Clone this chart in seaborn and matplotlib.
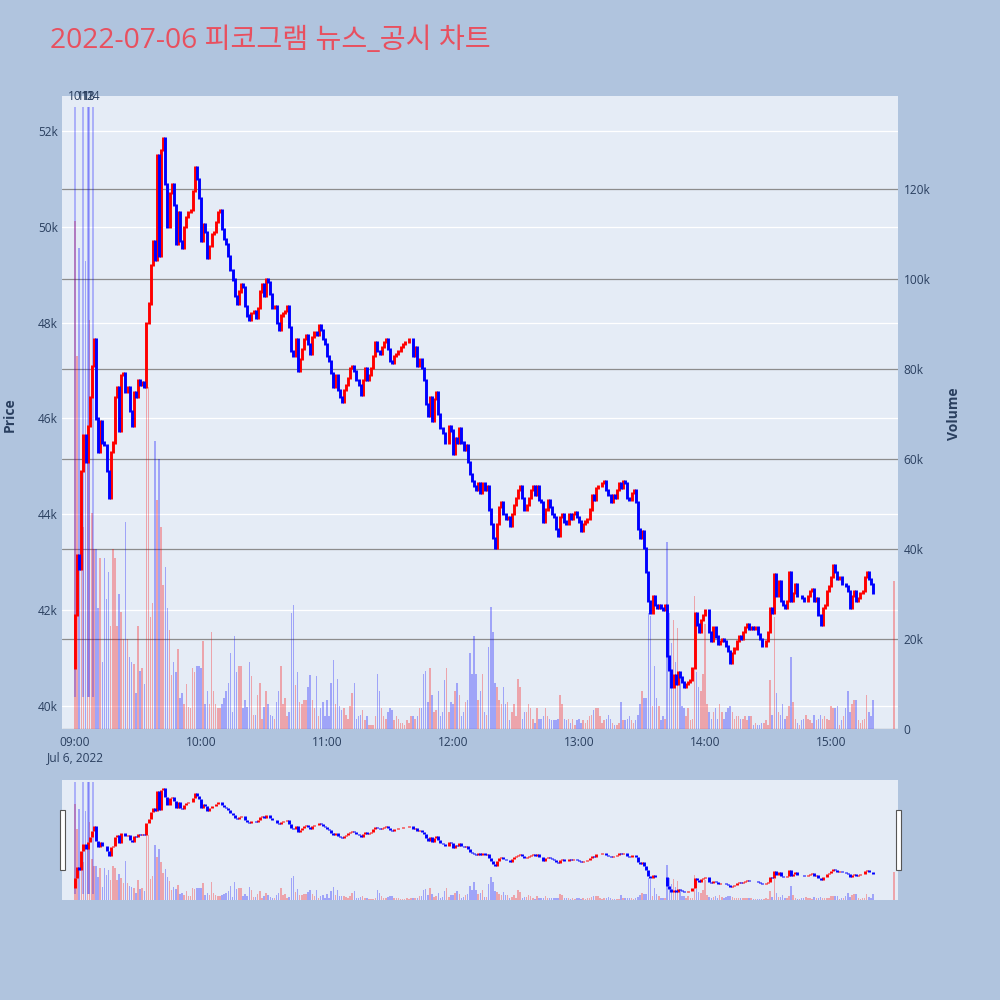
import numpy as np
import pandas as pd
import matplotlib
matplotlib.use("Agg")
import matplotlib.pyplot as plt
import seaborn as sns
from matplotlib.patches import Rectangle

# ---------------- data ----------------
title_text = "2022-07-06 피코그램 뉴스_공시 차트"

first_open = 40800
close_price = [
    41900, 43150, 42850, 44900, 45650, 45100, 45850, 46450, 47100, 47650,
    46000, 45300, 45950, 45500, 45450, 44900, 44350, 45300, 45500, 46450,
    46650, 45750, 46900, 46950, 46550, 46650, 46150, 45850, 46550, 46450,
    46800, 46700, 46750, 46650, 48000, 48400, 49200, 49700, 49300, 51500,
    49400, 51600, 51850, 50900, 50000, 50700, 50900, 50450, 49650, 50300,
    49700, 49550, 50000, 50200, 50300, 50350, 50750, 51250, 51000, 50600,
    49700, 50050, 49900, 49350, 49600, 49850, 49900, 50100, 50300, 50350,
    49950, 49750, 49650, 49400, 49100, 48900, 48550, 48400, 48650, 48800,
    48750, 48350, 48150, 48050, 48200, 48250, 48100, 48300, 48650, 48800,
    48550, 48900, 48850, 48600, 48300, 48350, 48000, 47850, 48150, 48200,
    48250, 48350, 47900, 47400, 47300, 47650, 47000, 47250, 47450, 47650,
    47750, 47550, 47350, 47700, 47800, 47750, 47950, 47850, 47650, 47550,
    47300, 47200, 46950, 46650, 46900, 46600, 46450, 46350, 46600, 46700,
    46850, 47050, 47100, 47000, 46800, 46700, 46500, 46800, 47050, 46800,
    46900, 47050, 47300, 47600, 47400, 47350, 47500, 47600, 47650, 47450,
    47200, 47150, 47300, 47350, 47400, 47500, 47550, 47600, 47600, 47650,
    47650, 47300, 47500, 47100, 47250, 47050, 46800, 46300, 46050, 46450,
    45950, 46400, 46550, 46100, 45800, 45700, 45500, 45500, 45850, 45750,
    45250, 45600, 45500, 45800, 45500, 45350, 45450, 45100, 44850, 44700,
    44600, 44500, 44650, 44450, 44650, 44500, 44600, 44100, 43800, 43500,
    43300, 43800, 44150, 44250, 44000, 43900, 43950, 43750, 44000, 44200,
    44350, 44500, 44600, 44350, 44100, 44200, 44350, 44500, 44600, 44400,
    44600, 44300, 44250, 43850, 44100, 44300, 44150, 44000, 43950, 43700,
    43550, 43950, 44000, 43850, 43800, 44000, 43900, 44000, 44050, 43950,
    43850, 43650, 43800, 43850, 43900, 44100, 44400, 44300, 44550, 44600,
    44600, 44650, 44700, 44500, 44400, 44250, 44400, 44350, 44500, 44650,
    44550, 44700, 44650, 44350, 44300, 44450, 44500, 44250, 43700, 43500,
    43650, 43300, 42800, 42200, 41950, 42300, 42100, 42050, 42100, 42050,
    42000, 42100, 41050, 40750, 40400, 40650, 40450, 40700, 40600, 40500,
    40400, 40450, 40500, 40550, 40800, 41950, 41700, 41550, 41800, 41900,
    42000, 42000, 41550, 41350, 41650, 41450, 41300, 41350, 41400, 41350,
    41250, 41150, 40900, 41100, 41200, 41350, 41450, 41400, 41550, 41650,
    41700, 41600, 41650, 41600, 41650, 41500, 41400, 41250, 41250, 41350,
    41550, 42050, 41950, 42750, 42300, 42600, 42200, 42100, 42050, 42200,
    42800, 42200, 42350, 42550, 42300, 42300, 42250, 42200, 42200, 42300,
    42400, 42450, 42200, 42250, 41900, 41700, 42050, 42100, 42400, 42500,
    42700, 42950, 42800, 42650, 42700, 42550, 42550, 42500, 42400, 42050,
    42300, 42400, 42200, 42250, 42350, 42400, 42700, 42800, 42650, 42550,
    42350,
    42350,
]

volume_k = [
    113, 83, 107, 52, 45, 104, 60, 91, 48, 40, 40, 27, 38, 15, 38, 29, 35, 23,
    40, 38, 23, 30, 26, 20, 46, 20, 16, 15, 14.5, 8, 23, 13, 13.5, 10,
    82, 76, 25, 28, 64, 51, 60, 45, 32, 36, 27, 22, 12, 15, 12.6, 17.8, 7, 8,
    5.6, 10, 5, 4.7, 13.6, 12.6, 14, 14, 13.6, 19.6, 5.6, 8.4, 5.6, 21.5, 8.4,
    5.6, 4.7, 4.7, 5.6, 7, 8.4, 10.3, 16.8,
    3.7, 20.6, 12.6, 14, 14, 4.7, 6.5, 5, 15, 11.7, 3.2, 3.2, 7.5, 10.3, 2.3,
    5, 8.4, 5.6, 3.2, 2.8, 2.3, 6, 8.4, 14, 5.6, 7, 2.8, 3.7, 25.7, 27.6,
    9.8, 12.6, 6, 5.6, 6.5, 6.5, 9.3, 12, 6.5, 4.7,
    11.7, 2.8, 4.7, 6, 2.8, 6.5, 2.8, 10.3, 15.4, 5.6, 11.2, 5.1, 4.2, 4.7,
    3.2, 2.3, 5.1, 7.9, 10.3, 2.3, 2.8, 3.2, 4.2, 1.9, 2.8, 0.9, 0.9, 0.9,
    2.8, 12.2, 8.4, 4.7, 2.8, 2.3, 3.7, 4.7, 4.2, 1.9, 2.8, 2.3,
    1.4, 1.4, 0.9, 1.9, 1.4, 2.8, 2.8, 2.3, 2.8, 4.7, 4.7, 12.2, 13, 6, 13.6,
    7.5, 3.7, 4.2, 8.4, 2.8, 3.7, 10.8, 13.6, 3.7, 6, 5.6, 8.4, 10.3, 7.5,
    2.8, 3.7, 6, 6.5, 16.8, 12.2, 20.6, 12.2, 6.5, 8.4, 12.2,
    3.7, 3.2, 18.2, 27.1, 21.5, 10.3, 9.3, 6.5, 5.6, 9.3, 5.6, 6, 1.9, 3.7,
    5.6, 2.8, 11.2, 9.3, 2.3, 3.7, 3.7, 5.6, 4.7, 2.3, 1.4, 4.7, 2.3, 2.3,
    2.8, 4.7, 2.8, 2.3, 1.9, 1.9, 1.9, 2.3, 7.5, 5.6, 2.3, 1.9,
    2.3, 1.4, 2.3, 0.9, 1.9, 2.3, 1.4, 1.9, 1.4, 1.9, 2.8, 3.2, 4.2, 4.7,
    4.7, 2.8, 1.4, 1.9, 2.3, 3.2, 2.3, 1.4, 0.9, 0.9, 1.4, 6, 1.9, 1.9, 2.3,
    2.8, 1.9, 1.4, 1.9, 3.2, 5.6, 8.4, 7, 7, 25.7, 25.2,
    5.1, 14, 7, 5.1, 1.9, 2.8, 2.3, 41.6, 25.7, 19.2, 24.3, 15, 22.4, 12.2,
    5.1, 4.7, 2.8, 4.7, 1.9, 2.3, 29.5, 12.6, 9.3, 8.4, 12.2, 23.4, 5.6, 3.7,
    2.3, 3.7, 4.7, 2.3, 5.6, 3.7, 2.3, 3.7, 4.7, 5.1, 3.7, 2.3,
    2.8, 2.8, 2.3, 2.3, 2.8, 1.9, 2.8, 2.8, 0.9, 1.4, 0.9, 0.9, 1.4, 1.4,
    1.9, 0.9, 10.8, 3.2, 24.8, 7.9, 3.7, 3.2, 5.6, 2.3, 2.8, 5.1, 15.9, 6,
    2.3, 1.4, 0.9, 1.9, 2.3, 3.2, 2.3, 1.9, 1.4, 3.2, 1.9, 2.3,
    3.2, 2.3, 2.8, 2.3, 1.9, 5.1, 4.7, 4.7, 5.1, 0.9, 1.9, 2.8, 4.7, 8.4,
    3.7, 5.6, 6.5, 6.5, 1.9, 1.4, 1.9, 2.3, 7.5, 3.7, 2.8, 6.5,
    33,
]

# minutes after 09:00 (continuous session 09:00-15:20, closing auction 15:30)
minute_index = list(range(0, 381)) + [390]

news_minutes = [0, 4, 6, 6.6, 8.7]
news_labels = ["10", "11", "12", "13", "14"]

price_ticks = [40000, 42000, 44000, 46000, 48000, 50000, 52000]
price_tick_labels = ["40k", "42k", "44k", "46k", "48k", "50k", "52k"]
volume_ticks = [0, 20000, 40000, 60000, 80000, 100000, 120000]
volume_tick_labels = ["0", "20k", "40k", "60k", "80k", "100k", "120k"]
time_ticks = [0, 60, 120, 180, 240, 300, 360]
time_tick_labels = ["09:00\nJul 6, 2022", "10:00", "11:00", "12:00", "13:00", "14:00", "15:00"]

assert len(close_price) == len(minute_index), len(close_price)
assert len(volume_k) == len(minute_index), len(volume_k)

df = pd.DataFrame({"minute": np.array(minute_index, dtype=float),
                   "close": close_price,
                   "volume": np.array(volume_k) * 1000.0})
df["open"] = df["close"].shift(1).fillna(first_open)
df["direction"] = np.where(df["close"] >= df["open"], "up", "down")

# ---------------- style ----------------
sns.set_theme(style="white")
plt.rcParams["font.family"] = ["Open Sans", "Noto Sans CJK KR", "DejaVu Sans"]

BG = "#b0c4de"
PLOT_BG = "#e5ecf6"
TXT = "#2a3f5f"
UP = "#ff0000"
DOWN = "#0000ff"

PRICE_LIM = (39520, 52730)
VOL_LIM = (0, 140700)
X_LIM = (-6.2, 391.9)

fig = plt.figure(figsize=(10, 10), dpi=100)
fig.patch.set_facecolor(BG)

L, R = 0.062, 0.898
main_rect = [L, 1 - 0.729, R - L, 0.729 - 0.096]
slider_rect = [L, 0.100, R - L, 0.120]


def draw_panel(rect, main=True):
    ax_vol = fig.add_axes(rect)
    ax_vol.set_facecolor(PLOT_BG)
    ax_price = ax_vol.twinx()
    for a in (ax_vol, ax_price):
        for s in a.spines.values():
            s.set_visible(False)

    # volume bars (secondary axis)
    sns.histplot(data=df, x="minute", weights="volume", hue="direction",
                 hue_order=["up", "down"], palette={"up": UP, "down": DOWN},
                 binwidth=1.0, binrange=(-0.5, 390.5), shrink=0.7, alpha=0.3,
                 linewidth=0, element="bars", multiple="layer", legend=False,
                 ax=ax_vol)
    ax_vol.set_ylim(*VOL_LIM)
    ax_vol.set_xlim(*X_LIM)
    ax_vol.set_xlabel("")
    ax_vol.set_ylabel("")

    # candles (price axis)
    x = df["minute"].to_numpy()
    o = df["open"].to_numpy(dtype=float)
    c = df["close"].to_numpy(dtype=float)
    ext = np.where(o != c, 22.0, 0.0) if main else 0.0
    lo = np.minimum(o, c) - ext
    hi = np.maximum(o, c) + ext
    up = c >= o
    lw = 2.1
    ax_price.vlines(x[up], lo[up], hi[up], colors=UP, linewidth=lw, zorder=3)
    ax_price.vlines(x[~up], lo[~up], hi[~up], colors=DOWN, linewidth=lw, zorder=3)
    # news markers
    ax_price.vlines(news_minutes, 40190, 52500, colors=[(0, 0, 1, 0.3)],
                    linewidth=1.2, zorder=2)
    ax_price.set_ylim(*PRICE_LIM)
    ax_price.set_xlim(*X_LIM)

    if main:
        ax_vol.set_axisbelow(True)
        ax_vol.yaxis.grid(True, color="#8c8c8c", linewidth=0.9)
        ax_vol.xaxis.grid(False)
        # price gridlines drawn beneath the bars
        for p in price_ticks:
            f = (p - PRICE_LIM[0]) / (PRICE_LIM[1] - PRICE_LIM[0])
            ax_vol.plot([0, 1], [f, f], transform=ax_vol.transAxes,
                        color="white", linewidth=0.9, zorder=0.6)
        ax_vol.set_yticks(volume_ticks)
        ax_vol.set_yticklabels(volume_tick_labels)
        ax_vol.yaxis.tick_right()
        ax_vol.tick_params(axis="y", length=0, pad=4, labelsize=8.6,
                           labelcolor=TXT)
        ax_price.yaxis.tick_left()
        ax_price.set_yticks(price_ticks)
        ax_price.set_yticklabels(price_tick_labels)
        ax_price.tick_params(axis="y", length=0, pad=3, labelsize=8.6,
                             labelcolor=TXT, left=False, right=False,
                             labelleft=True, labelright=False)
        ax_price.grid(False)
        ax_vol.set_xticks(time_ticks)
        ax_vol.set_xticklabels(time_tick_labels)
        ax_vol.tick_params(axis="x", length=0, pad=5, labelsize=8.6,
                           labelcolor=TXT)
        ax_price.tick_params(axis="x", bottom=False, labelbottom=False)
        for m, lab in zip(news_minutes, news_labels):
            ax_price.text(m, 1.0, lab, transform=ax_price.get_xaxis_transform(),
                          ha="center", va="center", fontsize=8.6, color=TXT,
                          clip_on=False, zorder=5)
    else:
        for a in (ax_vol, ax_price):
            a.set_xticks([])
            a.set_yticks([])
            a.grid(False)
    return ax_vol, ax_price


draw_panel(main_rect, main=True)
draw_panel(slider_rect, main=False)

# range slider grab handles
for hx in (0.0595, 0.8955):
    fig.patches.append(Rectangle((hx, 0.130), 0.005, 0.060,
                                 transform=fig.transFigure, facecolor="white",
                                 edgecolor="#555555", linewidth=0.8, zorder=10))

fig.text(0.05, 0.959, title_text, ha="left", va="center", fontsize=20.3,
         color="#e8505f")
fig.text(0.010, 0.585, "Price", rotation=90, ha="center", va="center",
         fontsize=10, fontweight="bold", color=TXT)
fig.text(0.954, 0.586, "Volume", rotation=90, ha="center", va="center",
         fontsize=10, fontweight="bold", color=TXT)

fig.savefig("out.png", dpi=100, facecolor=BG)
